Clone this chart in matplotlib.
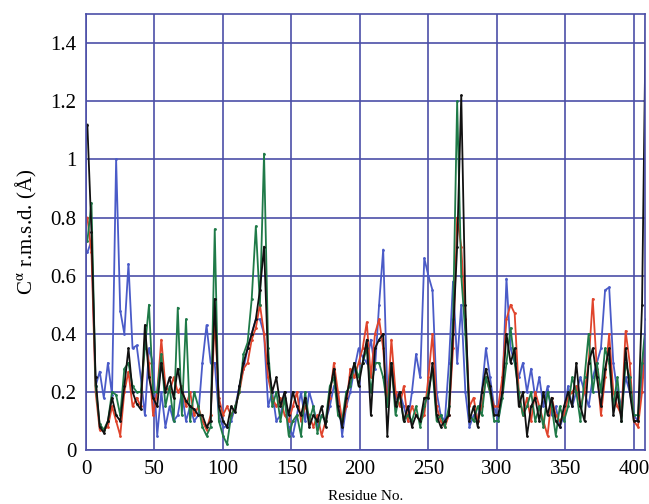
import numpy as np
import matplotlib
matplotlib.use('Agg')
import matplotlib.pyplot as plt
from matplotlib.ticker import FuncFormatter

# residue numbers sampled every 3 residues
residues = np.arange(1, 410, 3)

# C-alpha r.m.s.d. values (Angstrom)
rmsd_blue = [
    0.68, 0.72, 0.22, 0.27, 0.18, 0.30, 0.19, 1.00, 0.48, 0.40, 0.64, 0.35, 0.36, 0.25, 0.12, 0.35, 0.30,
    0.05, 0.20, 0.08, 0.15, 0.10, 0.12, 0.20, 0.10, 0.15, 0.10, 0.12, 0.30, 0.43, 0.30, 0.30, 0.12, 0.08,
    0.08, 0.10, 0.15, 0.22, 0.28, 0.35, 0.40, 0.45, 0.45, 0.40, 0.15, 0.20, 0.10, 0.12, 0.20, 0.08,
    0.05, 0.12, 0.20, 0.10, 0.20, 0.15, 0.08, 0.12, 0.10, 0.15, 0.22, 0.20, 0.05, 0.15, 0.20, 0.28, 0.35,
    0.32, 0.30, 0.38, 0.28, 0.50, 0.69, 0.20, 0.30, 0.18, 0.20, 0.15, 0.10, 0.20, 0.33, 0.25, 0.66,
    0.60, 0.55, 0.20, 0.12, 0.10, 0.30, 0.58, 0.30, 0.50, 0.20, 0.08, 0.12, 0.10, 0.20, 0.35, 0.25, 0.15,
    0.10, 0.20, 0.59, 0.35, 0.30, 0.25, 0.30, 0.20, 0.28, 0.18, 0.25, 0.15, 0.22, 0.12, 0.15, 0.08, 0.12,
    0.22, 0.15, 0.20, 0.25, 0.20, 0.15, 0.25, 0.30, 0.35, 0.55, 0.56, 0.30, 0.20, 0.15, 0.25, 0.20, 0.12, 0.10, 0.25, 0.45,
]
rmsd_red = [
    0.80, 0.68, 0.20, 0.07, 0.07, 0.08, 0.15, 0.10, 0.05, 0.20, 0.27, 0.15, 0.18, 0.15, 0.38, 0.30, 0.12,
    0.20, 0.38, 0.22, 0.20, 0.25, 0.20, 0.22, 0.15, 0.20, 0.12, 0.15, 0.10, 0.07, 0.12, 0.45, 0.18, 0.12,
    0.15, 0.12, 0.15, 0.20, 0.28, 0.30, 0.38, 0.42, 0.50, 0.40, 0.25, 0.18, 0.15, 0.18, 0.12, 0.10,
    0.15, 0.20, 0.10, 0.15, 0.12, 0.08, 0.12, 0.05, 0.10, 0.18, 0.30, 0.20, 0.10, 0.15, 0.28, 0.25, 0.30,
    0.35, 0.44, 0.25, 0.40, 0.45, 0.35, 0.15, 0.38, 0.20, 0.15, 0.22, 0.10, 0.15, 0.12, 0.10, 0.12,
    0.25, 0.40, 0.15, 0.10, 0.08, 0.12, 0.35, 0.80, 0.70, 0.45, 0.15, 0.18, 0.10, 0.15, 0.25, 0.20, 0.15,
    0.15, 0.25, 0.45, 0.50, 0.47, 0.20, 0.12, 0.18, 0.10, 0.20, 0.15, 0.10, 0.05, 0.18, 0.12, 0.10, 0.12,
    0.18, 0.20, 0.22, 0.15, 0.20, 0.30, 0.52, 0.28, 0.12, 0.25, 0.40, 0.20, 0.15, 0.12, 0.41, 0.30, 0.10, 0.08, 0.20, 0.40,
]
rmsd_green = [
    0.72, 0.85, 0.22, 0.09, 0.07, 0.10, 0.20, 0.19, 0.12, 0.28, 0.30, 0.22, 0.20, 0.20, 0.35, 0.50, 0.20,
    0.20, 0.33, 0.15, 0.22, 0.10, 0.49, 0.12, 0.45, 0.10, 0.20, 0.15, 0.08, 0.05, 0.08, 0.76, 0.10, 0.05,
    0.02, 0.12, 0.15, 0.20, 0.33, 0.37, 0.52, 0.77, 0.50, 1.02, 0.35, 0.15, 0.20, 0.10, 0.18, 0.05,
    0.10, 0.12, 0.05, 0.20, 0.10, 0.15, 0.06, 0.12, 0.10, 0.22, 0.25, 0.12, 0.10, 0.20, 0.22, 0.30, 0.25,
    0.30, 0.35, 0.20, 0.30, 0.30, 0.25, 0.15, 0.30, 0.12, 0.20, 0.10, 0.12, 0.10, 0.15, 0.08, 0.15,
    0.20, 0.28, 0.10, 0.12, 0.08, 0.15, 0.45, 1.20, 0.60, 0.40, 0.12, 0.10, 0.15, 0.12, 0.25, 0.20, 0.10,
    0.10, 0.18, 0.30, 0.42, 0.30, 0.20, 0.12, 0.15, 0.20, 0.10, 0.15, 0.08, 0.20, 0.15, 0.05, 0.15, 0.10,
    0.15, 0.25, 0.20, 0.10, 0.25, 0.40, 0.20, 0.30, 0.20, 0.35, 0.30, 0.15, 0.25, 0.10, 0.30, 0.25, 0.12, 0.12, 0.30, 0.45,
]
rmsd_black = [
    1.12, 0.75, 0.25, 0.08, 0.06, 0.10, 0.18, 0.12, 0.10, 0.22, 0.35, 0.20, 0.16, 0.14, 0.43, 0.25, 0.18,
    0.15, 0.30, 0.20, 0.25, 0.18, 0.28, 0.20, 0.17, 0.15, 0.14, 0.12, 0.12, 0.08, 0.10, 0.52, 0.15, 0.10,
    0.08, 0.15, 0.13, 0.22, 0.30, 0.35, 0.40, 0.45, 0.55, 0.70, 0.30, 0.20, 0.25, 0.15, 0.20, 0.12,
    0.20, 0.15, 0.12, 0.18, 0.08, 0.12, 0.10, 0.15, 0.08, 0.20, 0.28, 0.15, 0.08, 0.18, 0.25, 0.30, 0.22,
    0.30, 0.38, 0.12, 0.35, 0.38, 0.40, 0.05, 0.30, 0.15, 0.20, 0.10, 0.15, 0.08, 0.12, 0.10, 0.18,
    0.18, 0.30, 0.12, 0.08, 0.10, 0.12, 0.40, 0.70, 1.22, 0.50, 0.10, 0.15, 0.08, 0.20, 0.28, 0.22, 0.12,
    0.12, 0.20, 0.40, 0.30, 0.35, 0.15, 0.20, 0.05, 0.15, 0.18, 0.10, 0.20, 0.12, 0.18, 0.10, 0.08, 0.15,
    0.20, 0.15, 0.30, 0.15, 0.10, 0.30, 0.35, 0.25, 0.15, 0.28, 0.35, 0.12, 0.20, 0.10, 0.35, 0.20, 0.10, 0.10, 0.50, 1.60,
]

series = [
    (rmsd_blue, '#4a5bc8'),
    (rmsd_red, '#e0442c'),
    (rmsd_green, '#1f7a48'),
    (rmsd_black, '#111111'),
]

grid_col = '#4b4fa8'

plt.rcParams['font.family'] = ['Liberation Serif', 'DejaVu Serif']
plt.rcParams['mathtext.fontset'] = 'stix'

fig = plt.figure(figsize=(6.49, 5.04), dpi=100)
ax = fig.add_axes([0.1325, 0.107, 0.861, 0.865])

for vals, col in series:
    ax.plot(residues, vals, color=col, lw=1.3, marker='.', markersize=2)

ax.set_xlim(0, 408)
ax.set_ylim(0, 1.5)
ax.set_xticks(np.arange(0, 401, 50))
ax.set_yticks(np.arange(0, 1.41, 0.2))
ax.yaxis.set_major_formatter(FuncFormatter(lambda v, p: '{:g}'.format(round(v, 1))))
ax.grid(True, color=grid_col, lw=1.2)
ax.set_axisbelow(True)
for s in ax.spines.values():
    s.set_color(grid_col)
    s.set_linewidth(1.2)
ax.tick_params(length=0, labelsize=15, pad=7)

ax.set_ylabel('C$^{\\mathrm{\\alpha}}$ r.m.s.d. (Å)', fontsize=15, labelpad=8)
ax.set_xlabel('Residue No.', fontsize=11, labelpad=8)

fig.savefig('out.png', dpi=100)
